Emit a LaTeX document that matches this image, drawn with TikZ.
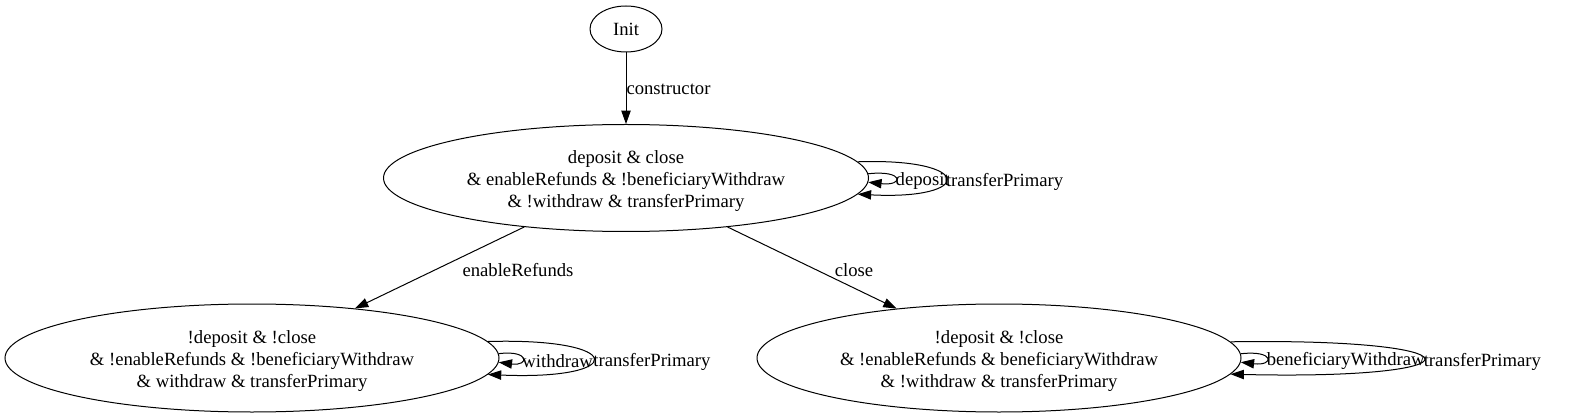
\documentclass[tikz,border=0pt]{standalone}
\usepackage{fontspec}
\setmainfont{Liberation Serif}
\usetikzlibrary{arrows.meta, shapes.geometric}

\newcommand{\toppad}{\rule{0pt}{14.5pt}}
\tikzset{
  state/.style={ellipse, draw, line width=0.75pt, inner sep=0pt, align=center,
    font=\fontsize{14}{16.5}\selectfont},
  lbl/.style={inner sep=0pt, font=\fontsize{14}{16.5}\selectfont},
}

\begin{document}
\begin{tikzpicture}[x=0.75pt, y=-0.75pt, >={Triangle[length=10pt, width=7pt]}, line width=0.75pt]
  \useasboundingbox (0,0) rectangle (1573,420);
  \node[state, minimum width=54pt, minimum height=34.5pt] (init) at (626,29) {Init};
  \node[state, minimum width=363.75pt, minimum height=80.25pt] (top) at (626,178)
    {\toppad deposit \& close\\\& enableRefunds \& !beneficiaryWithdraw\\\& !withdraw \& transferPrimary};
  \node[state, minimum width=370.5pt, minimum height=81pt] (refund) at (252,358)
    {\toppad!deposit \& !close\\\& !enableRefunds \& !beneficiaryWithdraw\\\& withdraw \& transferPrimary};
  \node[state, minimum width=363pt, minimum height=81pt] (closed) at (999,358)
    {\toppad!deposit \& !close\\\& !enableRefunds \& beneficiaryWithdraw\\\& !withdraw \& transferPrimary};

  \draw[->] (init) -- (top);
  \node[lbl, anchor=west] (lconstr) at (626,89) {constructor};
  \draw[->] (top) -- (refund);
  \node[lbl] (lrefund) at (518,270) {enableRefunds};
  \draw[->] (top) -- (closed);
  \node[lbl] (lclose) at (854,270) {close};

  % self loops
  \draw[->] (top.1.5) .. controls +(36,-4) and +(36,4) .. (top.-1.5)
    node[lbl, pos=0.5, anchor=west, yshift=-2.25pt] (ldep) {deposit};
  \draw[->] (top.4) .. controls +(117,-4) and +(117,6) .. (top.-4)
    node[lbl, pos=0.5, anchor=west, yshift=-2.25pt] (ltr1) {transferPrimary};
  \draw[->] (refund.1.5) .. controls +(31,-4) and +(31,4) .. (refund.-1.5)
    node[lbl, pos=0.5, anchor=west, yshift=-2.25pt] (lwd) {withdraw};
  \draw[->] (refund.4) .. controls +(140,-4) and +(140,6) .. (refund.-4)
    node[lbl, pos=0.5, anchor=west, yshift=-2.25pt] (ltr2) {transferPrimary};
  \draw[->] (closed.1.5) .. controls +(34,-4) and +(34,4) .. (closed.-1.5)
    node[lbl, pos=0.5, anchor=west, yshift=-2.25pt] (lbw) {beneficiaryWithdraw};
  \draw[->] (closed.4) .. controls +(257,-4) and +(257,6) .. (closed.-4)
    node[lbl, pos=0.5, anchor=west, yshift=-2.25pt] (ltr3) {transferPrimary};
\end{tikzpicture}
\end{document}
